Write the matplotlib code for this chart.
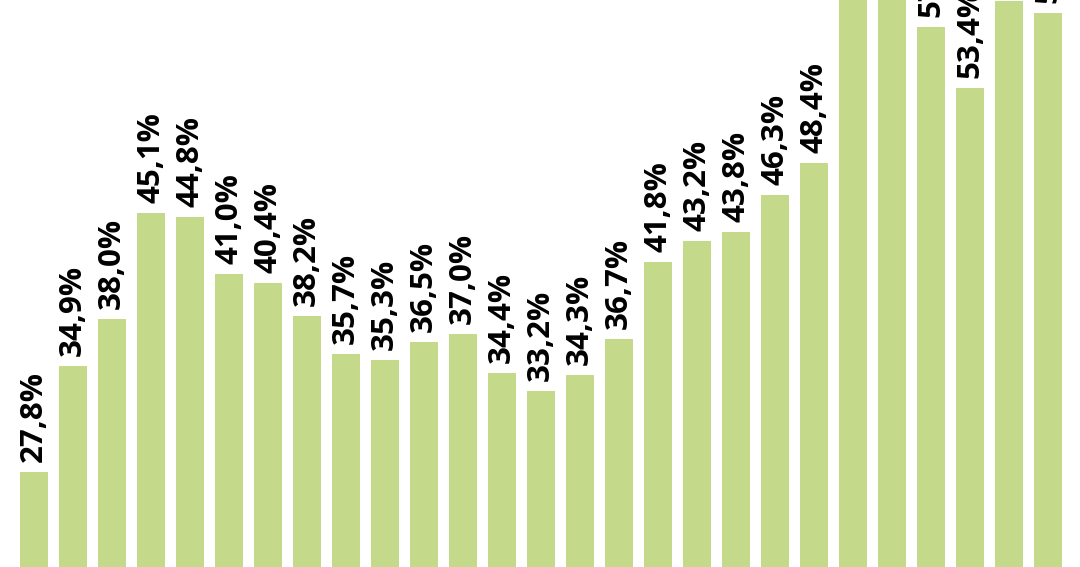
import matplotlib
matplotlib.use("Agg")
import matplotlib.pyplot as plt

values = [27.8, 34.9, 38.0, 45.1, 44.8, 41.0, 40.4, 38.2, 35.7, 35.3, 36.5, 37.0,
          34.4, 33.2, 34.3, 36.7, 41.8, 43.2, 43.8, 46.3, 48.4, 62.0, 61.5, 57.5,
          53.4, 59.2, 58.4]
labels = [f"{v:.1f}%".replace(".", ",") for v in values]

fig = plt.figure(figsize=(10.8, 5.67), dpi=100)
ax = fig.add_axes([0, 0, 1, 1])
x = list(range(len(values)))
ax.bar(x, values, width=0.72, color="#C5D98A", edgecolor="none")
for xi, v, lab in zip(x, values, labels):
    ax.annotate(lab, (xi, v), xytext=(0, 7), textcoords="offset points",
                rotation=90, ha="center", va="bottom", fontsize=22.5,
                fontfamily="Open Sans", fontweight="bold", color="black")
ax.set_xlim(-0.872, 26.82)
ax.set_ylim(21.47, 59.27)
ax.axis("off")
fig.savefig("out.png", dpi=100, facecolor="white")
